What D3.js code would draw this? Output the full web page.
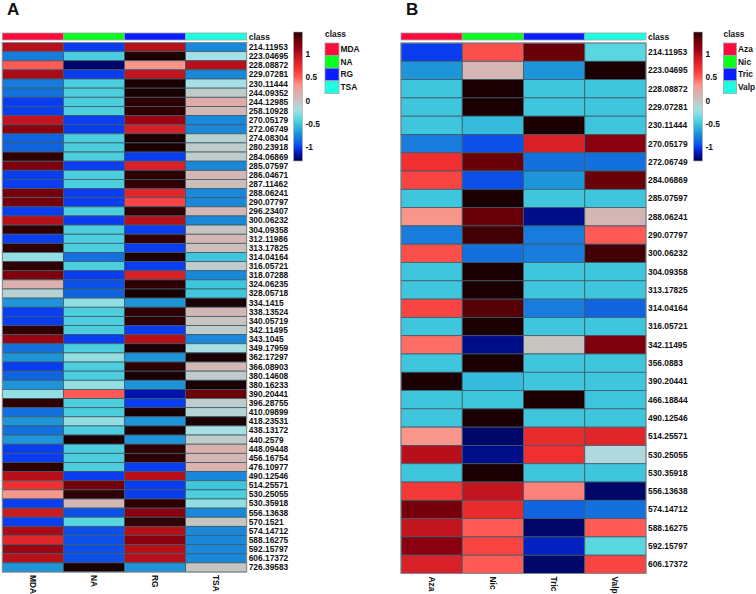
<!DOCTYPE html>
<html>
<head>
<meta charset="utf-8">
<script src="https://cdn.jsdelivr.net/npm/d3@7"></script>
<style>
  html, body { margin: 0; padding: 0; background: #ffffff; }
  svg { display: block; }
  text { font-family: "Liberation Sans", Arial, sans-serif; }
</style>
</head>
<body>
<svg id="chart" width="756" height="594"></svg>
<script>
// ---------------- DATA ----------------
const colsA = ["MDA", "NA", "RG", "TSA"];
const rowsA = ["214.11953","223.04695","228.08872","229.07281","230.11444","244.09352","244.12985","258.10928",
  "270.05179","272.06749","274.08304","280.23918","284.06869","285.07597","286.04671","287.11462","288.06241",
  "290.07797","296.23407","300.06232","304.09358","312.11986","313.17825","314.04164","316.05721","318.07288",
  "324.06235","328.05718","334.1415","338.13524","340.05719","342.11495","343.1045","349.17959","362.17297",
  "366.08903","380.14608","380.16233","390.20441","396.28755","410.09899","418.23531","438.13172","440.2579",
  "448.09448","456.16754","476.10977","490.12546","514.25571","530.25055","530.35918","556.13638","570.1521",
  "574.14712","588.16275","592.15797","606.17372","726.39583"];
const valMDA = [1.0,-0.8,0.5,1.05,-0.8,-0.85,-1.0,-1.0,0.95,1.15,-0.9,-0.9,1.45,1.2,-1.0,-1.0,1.25,1.25,-1.0,1.0,
  1.45,-1.0,1.45,-0.25,1.45,1.2,0.15,-0.1,-0.7,-1.0,-1.0,1.45,1.1,-0.85,-0.7,-1.0,-0.9,-0.7,-0.25,1.45,
  -0.85,-0.7,-0.85,-0.7,-1.0,-1.0,1.45,1.0,0.7,0.35,-1.0,0.9,-1.0,1.05,0.8,1.1,1.0,-0.7];
const valNA = [-1.0,-0.45,-1.25,-1.0,-0.45,-0.45,-0.45,-0.45,-1.0,-1.0,-0.45,-0.45,-0.45,-1.0,-0.45,-0.45,-1.0,-1.0,-0.45,-1.0,
  -0.45,-0.45,-0.45,-0.85,-0.45,-1.0,-0.95,-0.9,-0.25,-0.45,-0.45,-0.45,-1.0,-0.45,-0.25,-0.45,-0.45,-0.25,0.5,-0.45,
  -0.45,-0.25,-0.45,1.5,-0.45,-0.45,-0.45,-1.0,1.25,1.45,0.1,-0.95,-0.4,-0.95,-0.95,-0.95,-0.95,1.5];
const valRG = [1.0,1.5,0.35,0.95,1.5,1.5,1.45,1.45,1.1,0.85,1.5,1.5,-1.0,0.85,1.45,1.45,0.8,0.6,1.45,1.0,
  -1.0,1.45,-1.0,1.5,-1.0,0.85,1.45,1.5,-0.7,1.45,1.45,-1.0,1.0,1.5,-0.7,1.45,1.5,-0.7,-1.15,-1.0,
  1.5,-0.7,1.5,-0.7,1.45,1.45,-1.0,1.0,-1.0,-1.0,1.45,1.15,1.45,1.0,1.15,1.0,1.0,-0.7];
const valTSA = [-0.75,-0.2,1.0,-0.75,-0.2,-0.05,0.2,0.1,-0.75,-0.75,-0.1,-0.05,-0.05,-0.75,0.1,0.05,-0.75,-0.75,0.1,-0.75,
  0.0,0.1,0.05,-0.5,-0.05,-0.75,-0.5,-0.5,1.5,0.1,0.0,-0.05,-0.75,-0.2,1.5,0.1,-0.05,1.5,1.3,-0.05,
  -0.1,1.5,-0.2,-0.05,0.15,0.1,0.15,-0.75,-0.5,-0.45,-0.25,-0.75,0.0,-0.75,-0.75,-0.75,-0.75,0.0];

const colsB = ["Aza", "Nic", "Tric", "Valp"];
const rowsB = ["214.11953","223.04695","228.08872","229.07281","230.11444","270.05179","272.06749","284.06869",
  "285.07597","288.06241","290.07797","300.06232","304.09358","313.17825","314.04164","316.05721","342.11495",
  "356.0883","390.20441","466.18844","490.12546","514.25571","530.25055","530.35918","556.13638","574.14712",
  "588.16275","592.15797","606.17372"];
const valAza  = [-1.0,-0.7,-0.5,-0.5,-0.5,-0.8,0.7,0.6,-0.5,0.35,-0.8,0.55,-0.5,-0.5,0.6,-0.5,0.45,-0.5,1.5,-0.5,
  -0.5,0.35,1.0,-0.5,0.65,1.25,0.95,1.15,0.85];
const valNic  = [0.55,0.1,1.5,1.5,-0.55,-0.95,1.3,-0.95,1.5,1.3,1.4,-0.85,1.5,1.5,1.35,1.5,-1.2,1.5,-0.55,-0.5,
  1.5,-1.25,-1.2,1.5,0.95,0.75,0.5,0.6,0.5];
const valTric = [1.3,-0.7,-0.5,-0.5,1.5,0.85,-0.85,-0.7,-0.5,-1.2,-0.8,-0.8,-0.5,-0.5,-0.8,-0.5,0.0,-0.5,-0.5,1.5,
  -0.5,0.75,0.7,-0.5,0.4,-0.9,-1.25,-1.1,-1.25];
const valValp = [-0.4,1.5,-0.5,-0.5,-0.5,1.15,-0.85,1.3,-0.5,0.1,0.5,1.4,-0.5,-0.5,-0.9,-0.5,1.2,-0.5,-0.5,-0.5,
  -0.5,0.8,-0.15,-0.5,-1.25,-0.85,0.5,-0.4,0.6];

const classColorsA = ["#ff0a3c", "#0aff1e", "#0a1eff", "#1effe2"];
const classColorsB = ["#ff0a3c", "#0aff1e", "#0a1eff", "#1effe2"];
const legendTicks = [1, 0.5, 0, -0.5, -1];

// ---------------- COLOR SCALE ----------------
const stopVals = [-1.3,-1.15,-1.0,-0.9,-0.75,-0.6,-0.5,-0.4,-0.2,0,0.2,0.35,0.5,0.7,0.85,1.0,1.15,1.3,1.5];
const stopCols = ["#000048","#0014a8","#0a3cf0","#1064e0","#1a88d8","#2ab0dc","#40c6dc","#5ad6e0","#a6e0e4",
  "#c8c4c2","#e0aaa6","#f8968c","#ff5a55","#f03030","#d82028","#b8101a","#8a0010","#6a0008","#1a0003"];
const color = d3.scaleLinear().domain(stopVals).range(stopCols).interpolate(d3.interpolateRgb).clamp(true);

const svg = d3.select("#chart");
svg.append("rect").attr("width", 756).attr("height", 594).attr("fill", "#fff");

const defs = svg.append("defs");
const grad = defs.append("linearGradient").attr("id", "cbar").attr("x1", 0).attr("y1", 1).attr("x2", 0).attr("y2", 0);
const gradDomain = [-1.3, 1.48];
d3.range(0, 1.0001, 0.02).forEach(t => {
  const v = gradDomain[0] + t * (gradDomain[1] - gradDomain[0]);
  grad.append("stop").attr("offset", t).attr("stop-color", color(v));
});

function drawHeatmap(cfg) {
  const g = svg.append("g");
  const rowData = cfg.rows.map((r, i) => ({ label: r, values: cfg.series.map(s => s[i]) }));
  const x = d3.scaleBand().domain(cfg.cols).range([cfg.x0, cfg.x1]).padding(0);
  const y = d3.scaleBand().domain(cfg.rows.map((r, i) => i)).range([cfg.y0, cfg.y1]).padding(0);

  // panel letter
  g.append("text").attr("x", cfg.letterX).attr("y", 15).attr("font-size", 17).attr("font-weight", "bold")
    .attr("fill", "#111").text(cfg.letter);

  // class bar
  g.selectAll("rect.cls").data(cfg.cols).join("rect").attr("class", "cls")
    .attr("x", d => x(d)).attr("y", 33).attr("width", x.bandwidth()).attr("height", 7)
    .attr("fill", (d, i) => cfg.classColors[i]).attr("stroke", "#9aa4aa").attr("stroke-width", 0.8);
  g.append("text").attr("x", cfg.x1 + 2).attr("y", 37).attr("dy", "0.35em")
    .attr("font-size", 8.5).attr("font-weight", "bold").attr("fill", "#111").text("class");

  // cells
  const rowsG = g.selectAll("g.row").data(rowData).join("g").attr("class", "row")
    .attr("transform", (d, i) => `translate(0,${y(i)})`);
  rowsG.selectAll("rect").data(d => d.values).join("rect")
    .attr("x", (d, j) => x(cfg.cols[j])).attr("y", 0)
    .attr("width", x.bandwidth()).attr("height", y.bandwidth())
    .attr("fill", d => color(d)).attr("stroke", "#3e5a68").attr("stroke-width", 0.8);
  g.append("rect").attr("x", cfg.x0).attr("y", cfg.y0).attr("width", cfg.x1 - cfg.x0).attr("height", cfg.y1 - cfg.y0)
    .attr("fill", "none").attr("stroke", "#8a969c").attr("stroke-width", 0.8);

  // row labels
  g.selectAll("text.rl").data(rowData).join("text").attr("class", "rl")
    .attr("x", cfg.x1 + 2).attr("y", (d, i) => y(i) + y.bandwidth() / 2).attr("dy", "0.35em")
    .attr("font-size", 8.4).attr("font-weight", "bold").attr("fill", "#111").text(d => d.label);

  // column labels (rotated)
  g.selectAll("text.cl").data(cfg.cols).join("text").attr("class", "cl")
    .attr("transform", d => `translate(${x(d) + x.bandwidth() / 2},${cfg.y1 + 3}) rotate(90)`)
    .attr("dy", "0.35em").attr("font-size", 8.4).attr("font-weight", "bold").attr("fill", "#111").text(d => d);

  // color bar
  const ly = d3.scaleLinear().domain(gradDomain).range([161, 32]);
  g.append("rect").attr("x", cfg.barX).attr("y", 32).attr("width", 9).attr("height", 129)
    .attr("fill", "url(#cbar)").attr("stroke", "#b0b0b0").attr("stroke-width", 0.6);
  g.selectAll("text.lt").data(legendTicks).join("text").attr("class", "lt")
    .attr("x", cfg.barX + 12).attr("y", d => ly(d)).attr("dy", "0.35em")
    .attr("font-size", 8.4).attr("font-weight", "bold").attr("fill", "#111").text(d => d);

  // class legend
  g.append("text").attr("x", cfg.legX).attr("y", 37).attr("font-size", 8.4).attr("font-weight", "bold")
    .attr("fill", "#111").text("class");
  const lh = 12.6;
  g.selectAll("rect.lg").data(cfg.cols).join("rect").attr("class", "lg")
    .attr("x", cfg.legX).attr("y", (d, i) => 43 + i * lh).attr("width", cfg.legW).attr("height", lh)
    .attr("fill", (d, i) => cfg.classColors[i]).attr("stroke", "#9aa4aa").attr("stroke-width", 0.8);
  g.selectAll("text.lg").data(cfg.cols).join("text").attr("class", "lg")
    .attr("x", cfg.legX + cfg.legW + 1.5).attr("y", (d, i) => 43 + i * lh + lh / 2).attr("dy", "0.35em")
    .attr("font-size", 8.4).attr("font-weight", "bold").attr("fill", "#111").text(d => d);
}

drawHeatmap({
  letter: "A", letterX: 7, cols: colsA, rows: rowsA, series: [valMDA, valNA, valRG, valTSA],
  classColors: classColorsA, x0: 2.3, x1: 246.7, y0: 42.5, y1: 572, barX: 293.5, legX: 325, legW: 14
});
drawHeatmap({
  letter: "B", letterX: 406, cols: colsB, rows: rowsB, series: [valAza, valNic, valTric, valValp],
  classColors: classColorsB, x0: 401, x1: 646, y0: 43, y1: 573.5, barX: 693.5, legX: 723.5, legW: 13
});
</script>
</body>
</html>
